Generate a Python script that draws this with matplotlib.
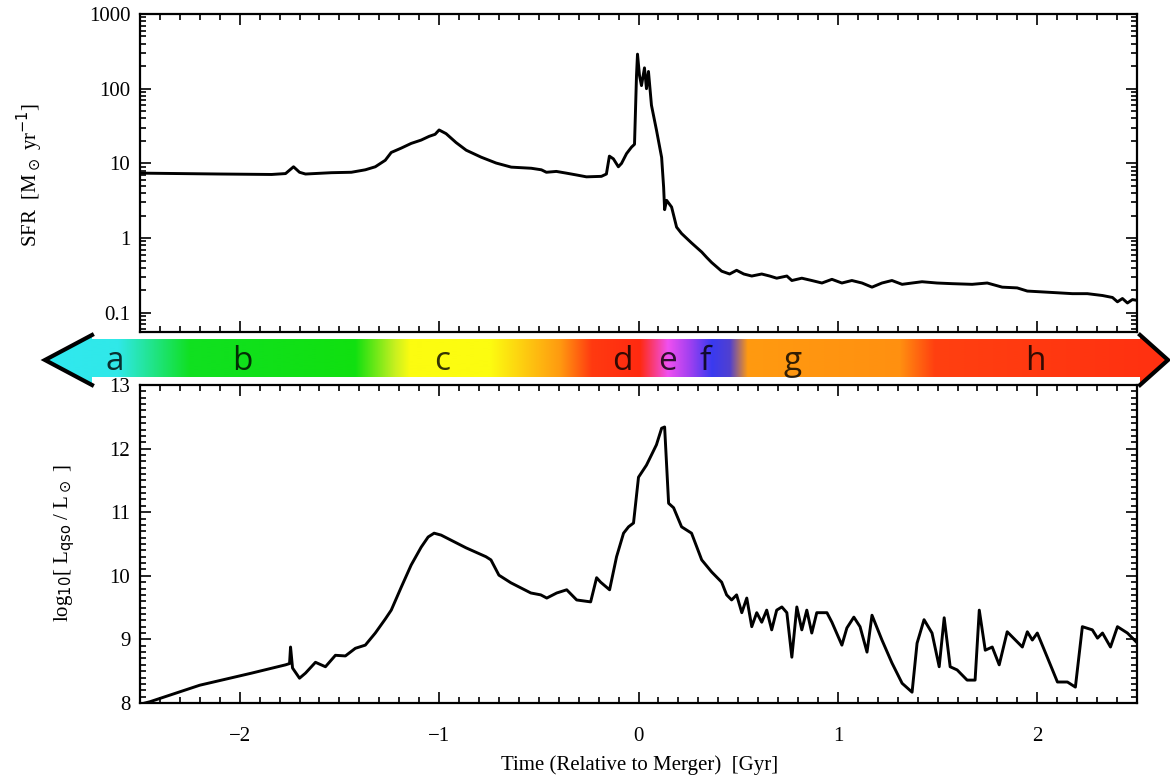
import numpy as np
import matplotlib
matplotlib.use("Agg")
import matplotlib.pyplot as plt
from matplotlib.patches import Polygon
from matplotlib.colors import to_rgb
from matplotlib.ticker import MultipleLocator, LogLocator, NullFormatter

# star formation rate
SFR_TIME = [
    -2.50, -2.10, -1.84, -1.77, -1.73, -1.70, -1.67, -1.54, -1.44, -1.37,
    -1.32, -1.27, -1.24, -1.19, -1.14, -1.09, -1.05, -1.02, -1.00, -0.965,
    -0.915, -0.864, -0.789, -0.714, -0.638, -0.538, -0.487, -0.462, -0.412, -0.362,
    -0.312, -0.261, -0.186, -0.161, -0.146, -0.126, -0.101, -0.085, -0.060, -0.035,
    -0.020, -0.010, -0.005, 0.005, 0.015, 0.030, 0.040, 0.050, 0.065, 0.090,
    0.116, 0.126, 0.131, 0.141, 0.166, 0.191, 0.216, 0.266, 0.317, 0.342,
    0.367, 0.417, 0.457, 0.492, 0.528, 0.568, 0.618, 0.658, 0.693, 0.744,
    0.769, 0.819, 0.869, 0.920, 0.970, 1.020, 1.070, 1.121, 1.171, 1.221,
    1.271, 1.322, 1.372, 1.422, 1.497, 1.573, 1.673, 1.749, 1.824, 1.899,
    1.950, 2.025, 2.101, 2.176, 2.251, 2.327, 2.377, 2.402, 2.427, 2.452,
    2.477, 2.508,
]
SFR = [
    7.4, 7.2, 7.1, 7.3, 9.0, 7.6, 7.2, 7.5, 7.6, 8.2,
    9.0, 11.0, 14.0, 16.0, 18.5, 20.5, 23.0, 24.5, 28.0, 25.0,
    19.0, 15.0, 12.1, 10.1, 8.9, 8.6, 8.2, 7.6, 7.8, 7.4,
    7.0, 6.6, 6.7, 7.2, 12.5, 11.5, 9.0, 10.0, 13.5, 16.5,
    18.0, 150.0, 290.0, 150.0, 110.0, 190.0, 100.0, 170.0, 60.0, 28.0,
    12.0, 4.8, 2.4, 3.2, 2.6, 1.4, 1.15, 0.86, 0.65, 0.55,
    0.47, 0.36, 0.33, 0.37, 0.33, 0.31, 0.33, 0.31, 0.29, 0.31,
    0.27, 0.29, 0.27, 0.25, 0.28, 0.25, 0.27, 0.25, 0.22, 0.25,
    0.27, 0.24, 0.25, 0.26, 0.25, 0.245, 0.24, 0.25, 0.22, 0.215,
    0.195, 0.19, 0.185, 0.18, 0.18, 0.17, 0.16, 0.14, 0.155, 0.135,
    0.15, 0.145,
]

# quasar luminosity
LQSO_TIME = [
    -2.50, -2.45, -2.20, -1.94, -1.77, -1.75, -1.745, -1.735, -1.70, -1.67,
    -1.62, -1.57, -1.52, -1.47, -1.42, -1.37, -1.32, -1.27, -1.24, -1.19,
    -1.14, -1.09, -1.055, -1.025, -0.99, -0.94, -0.89, -0.865, -0.815, -0.765,
    -0.74, -0.70, -0.64, -0.59, -0.54, -0.49, -0.46, -0.41, -0.36, -0.31,
    -0.24, -0.21, -0.19, -0.145, -0.11, -0.075, -0.05, -0.025, 0.0, 0.040,
    0.090, 0.116, 0.131, 0.151, 0.176, 0.216, 0.266, 0.317, 0.367, 0.417,
    0.442, 0.467, 0.492, 0.518, 0.543, 0.568, 0.593, 0.618, 0.643, 0.668,
    0.693, 0.719, 0.744, 0.769, 0.794, 0.819, 0.844, 0.869, 0.894, 0.945,
    0.970, 1.020, 1.045, 1.080, 1.111, 1.146, 1.171, 1.221, 1.271, 1.322,
    1.372, 1.397, 1.432, 1.472, 1.508, 1.533, 1.563, 1.598, 1.648, 1.688,
    1.709, 1.739, 1.774, 1.809, 1.849, 1.925, 1.950, 1.975, 2.000, 2.050,
    2.101, 2.151, 2.191, 2.226, 2.276, 2.302, 2.327, 2.367, 2.402, 2.452,
    2.503,
]
LOG_LQSO = [
    7.98, 8.02, 8.28, 8.47, 8.60, 8.62, 8.88, 8.55, 8.39, 8.47,
    8.64, 8.57, 8.75, 8.74, 8.86, 8.91, 9.10, 9.32, 9.46, 9.82,
    10.17, 10.45, 10.61, 10.67, 10.64, 10.56, 10.48, 10.44, 10.37, 10.30,
    10.25, 10.01, 9.89, 9.81, 9.73, 9.70, 9.65, 9.73, 9.78, 9.62,
    9.59, 9.97, 9.90, 9.78, 10.30, 10.67, 10.77, 10.83, 11.55, 11.74,
    12.06, 12.32, 12.34, 11.14, 11.07, 10.77, 10.67, 10.25, 10.06, 9.90,
    9.70, 9.62, 9.70, 9.42, 9.65, 9.20, 9.42, 9.27, 9.46, 9.15,
    9.46, 9.51, 9.42, 8.72, 9.51, 9.15, 9.46, 9.10, 9.42, 9.42,
    9.27, 8.91, 9.18, 9.35, 9.20, 8.80, 9.38, 8.99, 8.63, 8.31,
    8.17, 8.94, 9.31, 9.10, 8.57, 9.34, 8.57, 8.52, 8.36, 8.36,
    9.46, 8.83, 8.88, 8.60, 9.12, 8.88, 9.12, 8.99, 9.10, 8.72,
    8.33, 8.33, 8.25, 9.20, 9.15, 9.02, 9.10, 8.88, 9.20, 9.10,
    8.94,
]

# evolutionary stages shown on the coloured arrow
STAGES = ["a", "b", "c", "d", "e", "f", "g", "h"]
STAGE_X = [115, 242, 442, 622, 668, 705, 793, 1035]  # pixel positions

# colour ramp of the arrow (pixel position, colour)
RAMP_X = [45, 118, 190, 355, 395, 410, 490, 560, 592, 640,
          668, 690, 712, 730, 748, 900, 935, 1168]
RAMP_C = ["#30e8f0", "#30e8e8", "#10e020", "#10e010", "#c8f020",
          "#fcfc10", "#fcfc10", "#ff9a10", "#ff3a10", "#ff2a10",
          "#f050f0", "#a040f0", "#3a3af0", "#5040d0", "#ff9a10",
          "#ff9010", "#ff4010", "#ff3010"]

W, H = 1170, 776
SERIF = "Liberation Serif"

fig = plt.figure(figsize=(W / 100, H / 100), dpi=100)
ax1 = fig.add_axes([140 / W, 1 - 332 / H, 997 / W, 318 / H])
ax2 = fig.add_axes([140 / W, 1 - 703 / H, 997 / W, 318 / H])

for ax in (ax1, ax2):
    for s in ax.spines.values():
        s.set_linewidth(1.6)
    ax.tick_params(which="both", direction="in", top=True, right=True, width=1.2)
    ax.tick_params(which="major", length=8)
    ax.tick_params(which="minor", length=4)
    ax.tick_params(axis="y", pad=7)
    ax.set_xlim(-2.5, 2.5)
    ax.xaxis.set_major_locator(MultipleLocator(1))
    ax.xaxis.set_minor_locator(MultipleLocator(0.1))

# upper panel
ax1.plot(SFR_TIME, SFR, color="black", lw=2.1)
ax1.set_yscale("log")
ax1.set_ylim(0.0552, 1000)
ax1.set_yticks([0.1, 1, 10, 100, 1000])
ax1.set_yticklabels(["0.1", "1", "10", "100", "1000"], fontfamily=SERIF, fontsize=15)
ax1.yaxis.set_minor_locator(LogLocator(base=10, subs=np.arange(2, 10)))
ax1.yaxis.set_minor_formatter(NullFormatter())
ax1.set_xticklabels([])

# lower panel
ax2.plot(LQSO_TIME, LOG_LQSO, color="black", lw=2.1)
ax2.set_ylim(8, 13)
ax2.yaxis.set_minor_locator(MultipleLocator(0.1))
ax2.set_xticks([-2, -1, 0, 1, 2])
ax2.set_xticklabels(["\u22122", "\u22121", "0", "1", "2"], fontfamily=SERIF, fontsize=15)
ax2.set_yticks(range(8, 14))
ax2.set_yticklabels([str(v) for v in range(8, 14)], fontfamily=SERIF, fontsize=15)
ax2.tick_params(axis="x", pad=17)

fig.text(30 / W, 1 - 175 / H, r"SFR  [M$_\odot$ yr$^{-1}$]", rotation=90,
         ha="center", va="center", fontfamily=SERIF, fontsize=15)
fig.text(65 / W, 1 - 543 / H, r"log$_{10}$[ L$_{\rm qso}$ / L$_\odot$ ]", rotation=90,
         ha="center", va="center", fontfamily=SERIF, fontsize=15)
fig.text(640 / W, 1 - 765 / H, "Time (Relative to Merger)  [Gyr]",
         ha="center", va="center", fontfamily=SERIF, fontsize=15)

# coloured arrow between the panels, in pixel coordinates
ov = fig.add_axes([0, 0, 1, 1], zorder=5)
ov.set_xlim(0, W)
ov.set_ylim(H, 0)
ov.axis("off")
ov.patch.set_alpha(0)

cols = np.array([to_rgb(c) for c in RAMP_C])
xs = np.arange(45, 1169)
grad = np.stack([np.interp(xs, RAMP_X, cols[:, k]) for k in range(3)], axis=-1)[None, :, :]
shape = [(45, 360), (92, 335), (92, 339), (1140, 339), (1140, 335), (1168, 360),
         (1140, 385), (1140, 377), (92, 377), (92, 385)]
clip = Polygon(shape, closed=True, facecolor="none", edgecolor="none")
ov.add_patch(clip)
im = ov.imshow(grad, extent=(45, 1168, 385, 335), aspect="auto", interpolation="bilinear")
im.set_clip_path(clip)
ov.plot([92, 45, 92], [335, 360, 385], color="black", lw=3, solid_joinstyle="miter")
ov.plot([1140, 1168, 1140], [335, 360, 385], color="black", lw=3, solid_joinstyle="miter")

for lab, x in zip(STAGES, STAGE_X):
    ov.text(x, 370, lab, ha="center", va="baseline", fontsize=24,
            fontfamily="Open Sans", color="black", alpha=0.8)

fig.savefig("out.png", dpi=100, facecolor="white")
